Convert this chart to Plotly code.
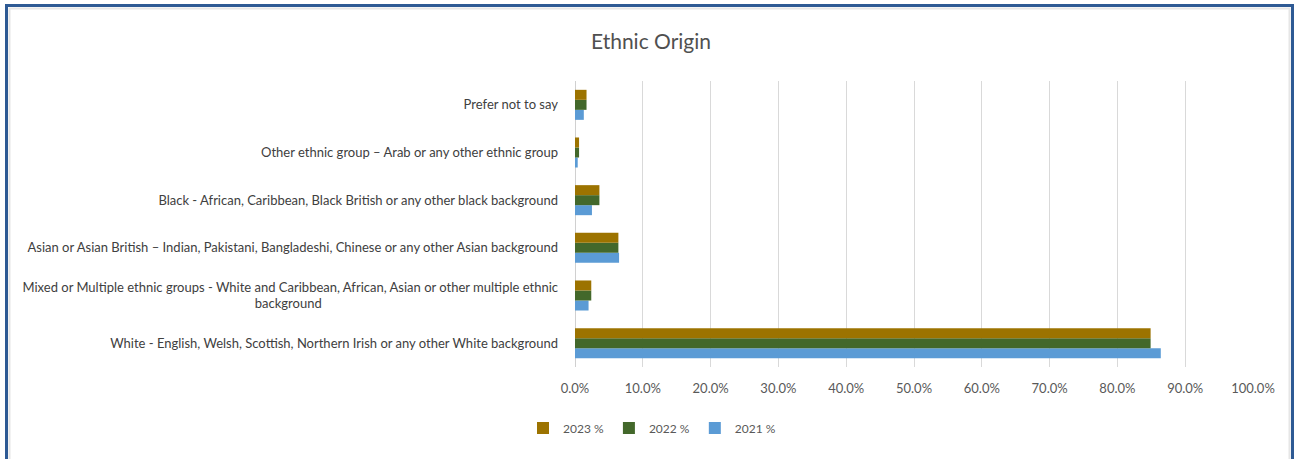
import plotly.graph_objects as go

# ---- data ----
categories = [
    "White - English, Welsh, Scottish, Northern Irish or any other White background",
    "Mixed or Multiple ethnic groups - White and Caribbean, African, Asian or other multiple ethnic<br>background" + "\u00a0" * 71,
    "Asian or Asian British \u2013 Indian, Pakistani, Bangladeshi, Chinese or any other Asian background",
    "Black - African, Caribbean, Black British or any other black background",
    "Other ethnic group \u2013 Arab or any other ethnic group",
    "Prefer not to say",
]
values_2021 = [0.864, 0.020, 0.065, 0.025, 0.004, 0.013]
values_2022 = [0.849, 0.024, 0.064, 0.036, 0.006, 0.017]
values_2023 = [0.849, 0.024, 0.064, 0.036, 0.006, 0.017]
series_names = ["2021 %", "2022 %", "2023 %"]
series_colors = ["#5B9BD5", "#43682B", "#9C7300"]
x_ticks = [0, 0.1, 0.2, 0.3, 0.4, 0.5, 0.6, 0.7, 0.8, 0.9, 1.0]

FONT = "Lato, Liberation Sans Narrow, sans-serif"

fig = go.Figure()
for name, vals, col in zip(series_names, [values_2021, values_2022, values_2023], series_colors):
    fig.add_trace(go.Bar(
        y=categories, x=vals, name=name, orientation="h",
        marker=dict(color=col, line=dict(width=0)),
    ))

W, H = 1297, 459
ml, mr, mt, mb = 575, 44, 81, 92
pw = W - ml - mr
ph = H - mt - mb

def px_x(p):
    return (p - ml) / pw

def px_y(p):
    return (H - mb - p) / ph

fig.update_layout(
    width=W, height=H,
    margin=dict(l=ml, r=mr, t=mt, b=mb, autoexpand=False),
    paper_bgcolor="white", plot_bgcolor="white",
    barmode="group", bargap=0.37, bargroupgap=0,
    font=dict(family=FONT, size=13, color="#595959"),
    title=dict(text="Ethnic Origin", x=651 / W, xref="container", xanchor="center",
               y=1 - 42 / H, yref="container", yanchor="middle",
               font=dict(family=FONT, size=21, color="#505050")),
    showlegend=True,
    legend=dict(orientation="h", traceorder="reversed", x=px_x(652), xanchor="center",
                y=px_y(428), yanchor="middle", font=dict(size=12, color="#595959"),
                itemwidth=30),
    xaxis=dict(range=[0, 1], tickvals=x_ticks, tickformat=".1%", automargin=False,
               showgrid=True, gridcolor="#D9D9D9", gridwidth=1,
               zeroline=True, zerolinecolor="#D0D0D0", zerolinewidth=1,
               showline=False, ticks="", ticklabelstandoff=12,
               tickfont=dict(size=13, color="#595959"), fixedrange=True),
    yaxis=dict(type="category", showgrid=False, zeroline=False, showline=False,
               ticks="", ticklabelstandoff=16, automargin=False,
               tickfont=dict(size=13, color="#404040"), fixedrange=True),
    shapes=[
        dict(type="rect", xref="paper", yref="paper",
             x0=px_x(6.5), x1=px_x(1292.5), y0=px_y(475), y1=px_y(5.5),
             line=dict(color="#2E5A94", width=3), fillcolor="rgba(0,0,0,0)", layer="above"),
        dict(type="rect", xref="paper", yref="paper",
             x0=px_x(9.5), x1=px_x(1289.5), y0=px_y(475), y1=px_y(8.5),
             line=dict(color="#E6E6E6", width=2), fillcolor="rgba(0,0,0,0)", layer="below"),
    ],
)

fig.write_html("out.html", config={"displayModeBar": False},
               post_script="document.body.style.margin='0';")
